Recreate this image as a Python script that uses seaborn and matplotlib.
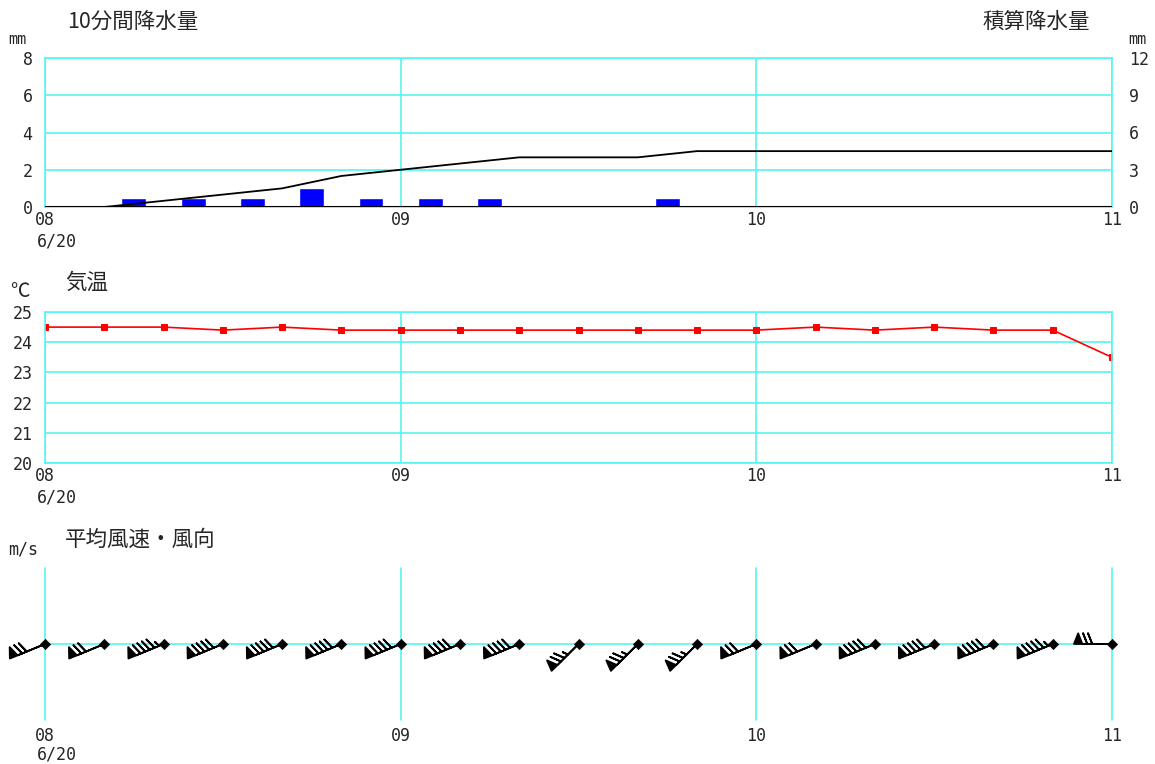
import numpy as np
import seaborn as sns
import matplotlib.pyplot as plt

# 時刻は 08:00 からの経過分
hour_ticks = [0, 60, 120, 180]
hour_labels = ['08', '09', '10', '11']

# 10分間降水量 (区間の終わりの時刻)
rain_end = [20, 30, 40, 50, 60, 70, 80, 110]
rain_mm = [0.5, 0.5, 0.5, 1.0, 0.5, 0.5, 0.5, 0.5]

# 積算降水量
cum_time = [10, 20, 30, 40, 50, 60, 70, 80, 90, 100, 110, 120, 130, 140, 150, 160, 170, 180]
cum_mm = [0.0, 0.5, 1.0, 1.5, 2.5, 3.0, 3.5, 4.0, 4.0, 4.0, 4.5, 4.5, 4.5, 4.5, 4.5, 4.5, 4.5, 4.5]

# 気温
temp_time = [0, 10, 20, 30, 40, 50, 60, 70, 80, 90, 100, 110, 120, 130, 140, 150, 160, 170, 180]
temp_c = [24.5, 24.5, 24.5, 24.4, 24.5, 24.4, 24.4, 24.4, 24.4, 24.4, 24.4, 24.4, 24.4,
          24.5, 24.4, 24.5, 24.4, 24.4, 23.5]

# 平均風速・風向
wind_time = temp_time
wind_dir = ['WSW'] * 9 + ['SW'] * 3 + ['WSW'] * 6 + ['W']
wind_spd = [7, 7, 9.5, 9, 9, 9, 9, 9, 9, 7.5, 7.5, 7.5, 7, 7, 9, 9, 9, 9.5, 7]

compass = {'N': 0, 'NNE': 22.5, 'NE': 45, 'ENE': 67.5, 'E': 90, 'ESE': 112.5, 'SE': 135,
           'SSE': 157.5, 'S': 180, 'SSW': 202.5, 'SW': 225, 'WSW': 247.5, 'W': 270,
           'WNW': 292.5, 'NW': 315, 'NNW': 337.5}

W, H = 1155, 764
cyan = '#55F5F5'
mono = ['DejaVu Sans Mono', 'Noto Sans CJK JP']

sns.set_style('white')
plt.rcParams['font.family'] = ['Noto Sans CJK JP', 'DejaVu Sans']

fig = plt.figure(figsize=(W / 100, H / 100), dpi=100)


def box(left, top, right, bottom):
    return [left / W, 1 - bottom / H, (right - left) / W, (bottom - top) / H]


def style_ticks(ax, ypad=9, xpad=3):
    ax.tick_params(axis='y', length=0, labelsize=12, pad=ypad)
    ax.tick_params(axis='x', length=0, labelsize=12, pad=xpad)
    for lab in ax.get_xticklabels() + ax.get_yticklabels():
        lab.set_family(mono)


def base_axes(ax):
    ax.set_xlim(0, 180)
    ax.set_xticks(hour_ticks)
    ax.set_xticklabels(hour_labels)
    ax.set_xlabel('')
    ax.set_ylabel('')
    for s in ax.spines.values():
        s.set_color(cyan)
        s.set_linewidth(1.2)
    ax.grid(True, color=cyan, lw=1.2)
    ax.set_axisbelow(True)
    ax.annotate('6/20', xy=(0, 0), xycoords=('data', 'axes fraction'),
                xytext=(-6, -25), textcoords='offset points', ha='left', va='center',
                fontsize=12, family=mono)


# --- 降水量 ---
ax1 = fig.add_axes(box(45, 58, 1112, 207))
rain_mid = [t - 5 for t in rain_end]
sns.barplot(x=rain_mid, y=rain_mm, native_scale=True, width=0.42, color='#0000FF',
            saturation=1, ax=ax1)
base_axes(ax1)
ax1.set_ylim(0, 8)
ax1.set_yticks([0, 2, 4, 6, 8])
style_ticks(ax1)
ax1.axhline(0, color='black', lw=1.5, zorder=4)
ax1r = ax1.twinx()
sns.lineplot(x=cum_time, y=cum_mm, color='black', lw=1.3, ax=ax1r)
ax1r.set_ylim(0, 12)
ax1r.set_yticks([0, 3, 6, 9, 12])
ax1r.set_ylabel('')
style_ticks(ax1r, ypad=12)
for s in ax1r.spines.values():
    s.set_visible(False)

# --- 気温 ---
ax2 = fig.add_axes(box(45, 312, 1112, 463))
sns.lineplot(x=temp_time, y=temp_c, color='red', lw=1.2, marker='s', markersize=4,
             markeredgecolor='red', ax=ax2)
base_axes(ax2)
ax2.set_ylim(20, 25)
ax2.set_yticks([20, 21, 22, 23, 24, 25])
style_ticks(ax2)

# --- 風 ---
ax3 = fig.add_axes(box(45, 568, 1112, 720))
ax3.set_ylim(-1, 1)
ax3.axhline(0, color=cyan, lw=1.2, zorder=0)
for t in hour_ticks:
    ax3.axvline(t, color=cyan, lw=1.2, zorder=0, clip_on=False)
deg = np.radians([compass[d] for d in wind_dir])
spd = np.array(wind_spd)
u = -spd * np.sin(deg)
v = -spd * np.cos(deg)
ax3.barbs(wind_time, np.zeros(len(wind_time)), u, v, length=7.4,
          barb_increments=dict(half=0.5, full=1, flag=5),
          sizes=dict(spacing=0.13, height=0.28, width=0.22),
          linewidth=1.3, color='black', zorder=3, clip_on=False)
sns.scatterplot(x=wind_time, y=np.zeros(len(wind_time)), marker='D', s=28, color='black',
                edgecolor='black', ax=ax3, zorder=4, clip_on=False)
ax3.set_xlim(0, 180)
ax3.set_xticks(hour_ticks)
ax3.set_xticklabels(hour_labels)
ax3.set_yticks([])
style_ticks(ax3, xpad=5)
for s in ax3.spines.values():
    s.set_visible(False)
ax3.annotate('6/20', xy=(0, 0), xycoords=('data', 'axes fraction'),
             xytext=(-6, -25), textcoords='offset points', ha='left', va='center',
             fontsize=12, family=mono)


# タイトル・単位
def ftext(x, y, s, **kw):
    fig.text(x / W, 1 - y / H, s, va='center', **kw)


ftext(67, 22, '10分間降水量', fontsize=15.5)
ftext(1090, 22, '積算降水量', fontsize=15.5, ha='right')
ftext(8, 40, 'mm', fontsize=11, family=mono)
ftext(1128, 40, 'mm', fontsize=11, family=mono)
ftext(10, 291, '℃', fontsize=14)
ftext(65, 283, '気温', fontsize=15.5)
ftext(8, 550, 'm/s', fontsize=12, family=mono)
ftext(65, 540, '平均風速・風向', fontsize=15.5)

fig.savefig('out.png', dpi=100)
